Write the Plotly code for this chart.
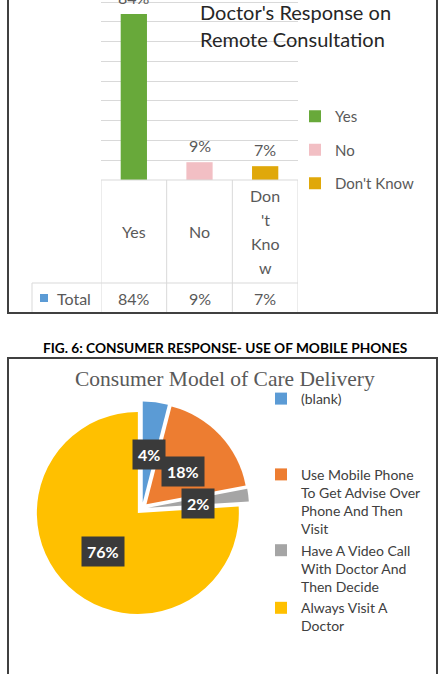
import math
import plotly.graph_objects as go

W, H = 443, 674


def px(x):
    return x / W


def py(y):
    return 1 - y / H


# ---------------- Data ----------------
doc_categories = ["Yes", "No", "Don't Know"]
doc_values = [84, 9, 7]
doc_table_lines = [["Yes"], ["No"], ["Don", "'t", "Kno", "w"]]
doc_row_name = "Total"
doc_colors = ["#68a93a", "#f2bfc4", "#e0a80a"]

pie_legend_lines = [
    ["(blank)", " ", " ", " "],
    ["Use Mobile Phone", "To Get Advise Over", "Phone And Then", "Visit"],
    ["Have A Video Call", "With Doctor And", "Then Decide"],
    ["Always Visit A", "Doctor"],
]
pie_values = [4, 18, 2, 76]
pie_colors = ["#5b9bd5", "#ed7d31", "#a5a5a5", "#ffc000"]
pie_pull = 0.06

GREY = "#595959"
FONT = "Lato"

fig = go.Figure()

# ---------------- Bar chart (top) ----------------
for cat, val, col in zip(doc_categories, doc_values, doc_colors):
    fig.add_trace(go.Bar(
        x=[cat], y=[val], name=cat, marker=dict(color=col, line=dict(width=0)),
        width=0.4, legend="legend", legendgroup=cat, xaxis="x", yaxis="y",
        hovertemplate="%{x}: %{y}%<extra></extra>",
    ))

plot_top_px, plot_bot_px = 0, 180
px_per_pct = (180 - 14) / 84.0
y_top = (plot_bot_px - plot_top_px) / px_per_pct

annotations = []
shapes = []


def ann(**kw):
    kw.setdefault("showarrow", False)
    kw.setdefault("xanchor", "center")
    kw.setdefault("yanchor", "middle")
    annotations.append(kw)


# value labels above bars
for cat, val in zip(doc_categories, doc_values):
    ann(x=cat, y=val, xref="x", yref="y", text=f"{val}%", yanchor="bottom", yshift=5,
        font=dict(family=FONT, size=16, color=GREY))

# data table: category labels
for cat, lines in zip(doc_categories, doc_table_lines):
    n = len(lines)
    for i, ln in enumerate(lines):
        ann(x=cat, y=py(231.5), xref="x", yref="paper", text=ln,
            yshift=-(i - (n - 1) / 2) * 24.3,
            font=dict(family=FONT, size=16, color=GREY))
# data table: values row
for cat, val in zip(doc_categories, doc_values):
    ann(x=cat, y=py(298), xref="x", yref="paper", text=f"{val}%",
        font=dict(family=FONT, size=16, color=GREY))
ann(x=px(55), y=py(298), xref="paper", yref="paper", text=doc_row_name, xanchor="left",
    font=dict(family=FONT, size=16, color=GREY))
shapes.append(dict(type="rect", xref="paper", yref="paper", x0=px(40), x1=px(48),
                   y0=py(302), y1=py(294), fillcolor="#5b9bd5", line=dict(width=0)))

TL = dict(color="#d9d9d9", width=1)
shapes.append(dict(type="line", xref="paper", yref="paper", x0=px(101), x1=px(298),
                   y0=py(180), y1=py(180), line=TL))
shapes.append(dict(type="line", xref="paper", yref="paper", x0=px(32), x1=px(298),
                   y0=py(283), y1=py(283), line=TL))
for k in range(len(doc_categories) + 1):
    shapes.append(dict(type="line", xref="x", yref="paper", x0=k - 0.5, x1=k - 0.5,
                       y0=py(180), y1=py(313), line=TL))
shapes.append(dict(type="line", xref="paper", yref="paper", x0=px(32), x1=px(32),
                   y0=py(283), y1=py(313), line=TL))

# chart title
ann(x=px(198), y=py(12), xref="paper", yref="paper", text="Doctor's Response on",
    xanchor="left", font=dict(family=FONT, size=20, color="#262626"))
ann(x=px(198), y=py(39), xref="paper", yref="paper", text="Remote Consultation",
    xanchor="left", font=dict(family=FONT, size=20, color="#262626"))

# frames
FR = dict(color="#404040", width=2)
shapes.append(dict(type="rect", xref="paper", yref="paper", x0=px(8), x1=px(437),
                   y0=py(313), y1=py(-20), line=FR, fillcolor="rgba(0,0,0,0)"))
shapes.append(dict(type="rect", xref="paper", yref="paper", x0=px(8), x1=px(437),
                   y0=py(700), y1=py(358), line=FR, fillcolor="rgba(0,0,0,0)"))

# caption
ann(x=px(225), y=py(348), xref="paper", yref="paper",
    text="<b>FIG. 6: CONSUMER RESPONSE- USE OF MOBILE PHONES</b>",
    font=dict(family=FONT, size=13.7, color="#000000"))

# ---------------- Pie chart (bottom) ----------------
cx, cy, r = 142.0, 508.5, 101.0
half = r * (1 + pie_pull)
pie_labels = ["<br>".join(l) for l in pie_legend_lines]
fig.add_trace(go.Pie(
    labels=pie_labels, values=pie_values, sort=False, direction="clockwise", rotation=0,
    pull=[pie_pull] * len(pie_values), marker=dict(colors=pie_colors, line=dict(width=0)),
    textinfo="none", legend="legend2",
    domain=dict(x=[px(cx - half), px(cx + half)], y=[py(cy + half), py(cy - half)]),
    hovertemplate="%{percent}<extra></extra>",
))

ann(x=px(225), y=py(379), xref="paper", yref="paper", text="Consumer Model of Care Delivery",
    font=dict(family="Liberation Serif", size=21.5, color=GREY))

total = sum(pie_values)
cum = 0
for v in pie_values:
    mid = (cum + v / 2) / total * 2 * math.pi
    cum += v
    lx = cx + 0.56 * r * math.sin(mid)
    ly = cy - 0.56 * r * math.cos(mid) + 2
    ann(x=px(lx), y=py(ly), xref="paper", yref="paper", text=f"<b>{v}%</b>",
        bgcolor="#3a3a3a", borderpad=5, font=dict(family=FONT, size=16, color="white"))

fig.update_layout(
    width=W, height=H, margin=dict(l=0, r=0, t=0, b=0),
    paper_bgcolor="white", plot_bgcolor="white", barmode="overlay",
    showlegend=True,
    xaxis=dict(domain=[px(101), px(298)], range=[-0.5, 2.5], showticklabels=False,
               showgrid=False, zeroline=False, fixedrange=True),
    yaxis=dict(domain=[py(180), 1], range=[0, y_top], showticklabels=False, dtick=10,
               gridcolor="#d9d9d9", gridwidth=1, zeroline=False, fixedrange=True),
    legend=dict(x=px(295), y=py(100), xanchor="left", yanchor="top", tracegroupgap=11,
                font=dict(family=FONT, size=15, color=GREY), bgcolor="rgba(0,0,0,0)"),
    legend2=dict(x=px(261), y=py(383), xanchor="left", yanchor="top", valign="top",
                 font=dict(family=FONT, size=14, color="#404040"), bgcolor="rgba(0,0,0,0)"),
    annotations=annotations, shapes=shapes,
)

fig.write_html("out.html", config={"displayModeBar": False})
